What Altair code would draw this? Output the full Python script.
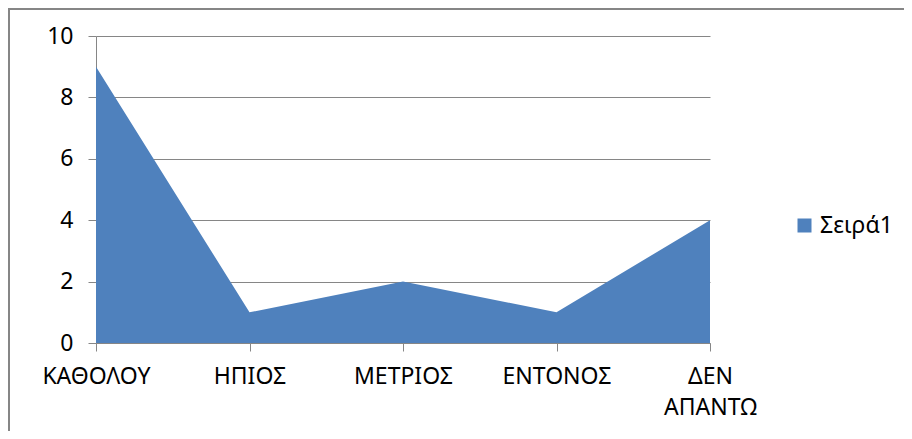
import altair as alt
import pandas as pd

categories = ["ΚΑΘΟΛΟΥ", "ΗΠΙΟΣ", "ΜΕΤΡΙΟΣ", "ΕΝΤΟΝΟΣ", "ΔΕΝ ΑΠΑΝΤΩ"]
values = [9, 1, 2, 1, 4]
series_name = "Σειρά1"
y_ticks = [0, 2, 4, 6, 8, 10]

df = pd.DataFrame({"cat": categories, "val": values, "series": [series_name] * len(categories)})

FONT = "Noto Sans"
GRAY = "#868686"
BLUE = "#4F81BD"
FS = 23

area = alt.Chart(df).mark_area(opacity=1, line=False).encode(
    x=alt.X("cat:N", sort=categories,
            scale=alt.Scale(type="point", padding=0),
            axis=alt.Axis(title=None, labelAngle=0, labelExpr="split(datum.label, ' ')",
                          labelFontSize=FS, labelFont=FONT, labelColor="#000000",
                          labelPadding=14, labelLineHeight=31,
                          tickSize=8, tickColor=GRAY, domainColor=GRAY, grid=False)),
    y=alt.Y("val:Q", scale=alt.Scale(domain=[0, 10]),
            axis=alt.Axis(title=None, values=y_ticks, labelFontSize=FS, labelFont=FONT,
                          labelColor="#000000", labelPadding=15, tickSize=8,
                          tickColor=GRAY, domainColor=GRAY, gridColor=GRAY)),
    color=alt.Color("series:N", scale=alt.Scale(range=[BLUE]),
                    legend=alt.Legend(title=None, orient="none", legendX=697, legendY=178,
                                      symbolType="square", symbolSize=196,
                                      symbolStrokeWidth=0, labelFontSize=FS,
                                      labelFont=FONT, labelColor="#000000", labelOffset=4)),
)

frame_top = pd.DataFrame({"x0": [-88], "x1": [808], "yy": [-27]})
frame_left = pd.DataFrame({"xx": [-87], "y0": [-28], "y1": [395]})

top_rule = alt.Chart(frame_top).mark_rule(stroke=GRAY, strokeWidth=2, strokeCap="butt").encode(
    x=alt.X("x0:Q", scale=None), x2="x1:Q", y=alt.Y("yy:Q", scale=None)
)
left_rule = alt.Chart(frame_left).mark_rule(stroke=GRAY, strokeWidth=2, strokeCap="butt").encode(
    x=alt.X("xx:Q", scale=None), y=alt.Y("y0:Q", scale=None), y2="y1:Q"
)

chart = alt.layer(area, top_rule, left_rule).resolve_scale(x="independent", y="independent").properties(
    width=614, height=307,
    autosize=alt.AutoSizeParams(type="none"),
    padding={"left": 88, "top": 28, "right": 194, "bottom": 88},
).configure_view(strokeWidth=0)

chart.save("out.html", embed_options={"renderer": "svg", "actions": False})
